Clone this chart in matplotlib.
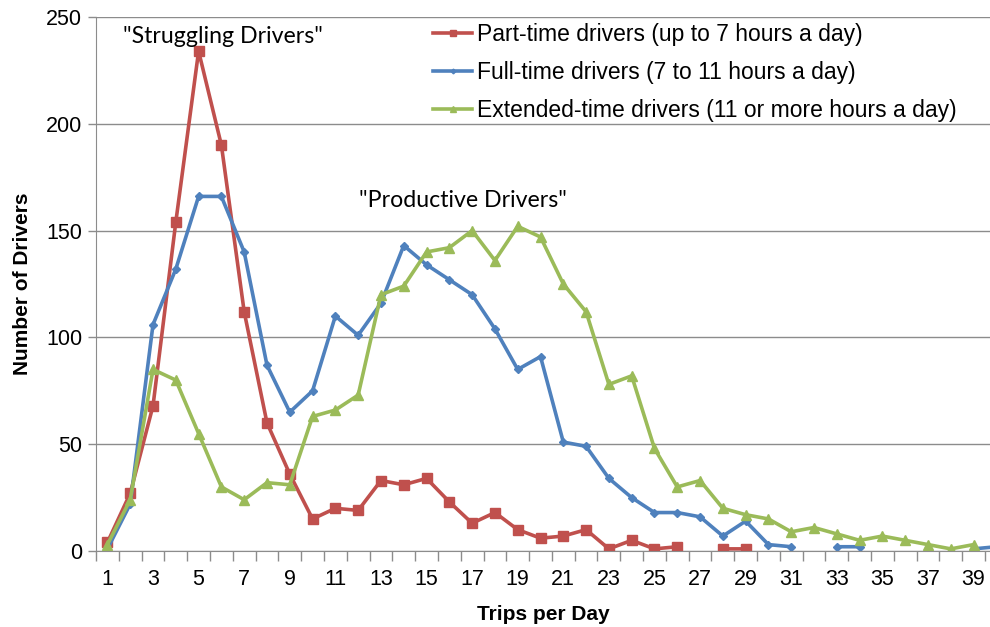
import numpy as np
import matplotlib
matplotlib.use("Agg")
import matplotlib.pyplot as plt
from matplotlib.ticker import FixedLocator, NullFormatter

nan = np.nan
trips = list(range(1, 41))

part_time = [4, 27, 68, 154, 234, 190, 112, 60, 36, 15,
             20, 19, 33, 31, 34, 23, 13, 18, 10, 6,
             7, 10, 1, 5, 1, 2, nan, 1, 1, nan,
             nan, nan, nan, nan, nan, nan, nan, nan, nan, nan]
full_time = [1, 22, 106, 132, 166, 166, 140, 87, 65, 75,
             110, 101, 116, 143, 134, 127, 120, 104, 85, 91,
             51, 49, 34, 25, 18, 18, 16, 7, 14, 3,
             2, nan, 2, 2, nan, nan, nan, nan, 1, 2]
extended = [3, 24, 85, 80, 55, 30, 24, 32, 31, 63,
            66, 73, 120, 124, 140, 142, 150, 136, 152, 147,
            125, 112, 78, 82, 48, 30, 33, 20, 17, 15,
            9, 11, 8, 5, 7, 5, 3, 1, 3, nan]

labels = ["Part-time drivers (up to 7 hours a day)",
          "Full-time drivers (7 to 11 hours a day)",
          "Extended-time drivers (11 or more hours a day)"]

red, blue, green = "#C0504D", "#4F81BD", "#9BBB59"

fig = plt.figure(figsize=(9.9, 6.27), dpi=100)
ax = fig.add_axes([0.097, 0.1212, 0.903, 0.8517])

ax.plot(trips, part_time, color=red, lw=2.6, marker="s", ms=6.5, label=labels[0])
ax.plot(trips, full_time, color=blue, lw=2.6, marker="D", ms=4, label=labels[1])
ax.plot(trips, extended, color=green, lw=2.6, marker="^", ms=6.5, label=labels[2])

ax.set_xlim(0.5, 39.72)
ax.set_ylim(0, 250)
ax.set_yticks([0, 50, 100, 150, 200, 250])
ax.yaxis.grid(True, color="#8c8c8c", lw=1)
ax.set_axisbelow(True)

ax.set_xticks(range(1, 40, 2))
ax.xaxis.set_minor_locator(FixedLocator(np.arange(0.5, 40.5, 1)))
ax.xaxis.set_minor_formatter(NullFormatter())
ax.tick_params(axis="x", which="major", length=0, pad=13, labelsize=15.5)
ax.tick_params(axis="x", which="minor", length=7, color="#8c8c8c", width=1)
ax.tick_params(axis="y", length=6, color="#8c8c8c", width=1, pad=4, labelsize=15.5)
for lab in ax.get_xticklabels() + ax.get_yticklabels():
    lab.set_family("Liberation Sans")

for side in ["top", "right"]:
    ax.spines[side].set_visible(False)
ax.spines["left"].set_color("#8c8c8c")
ax.spines["bottom"].set_color("#8c8c8c")

ax.set_xlabel("Trips per Day", fontsize=15, fontweight="bold", family="Liberation Sans", labelpad=11)
ax.set_ylabel("Number of Drivers", fontsize=15, fontweight="bold", family="Liberation Sans", labelpad=10)

ax.text(6.05, 241, '"Struggling Drivers"', fontsize=16.7, family="Lato", ha="center", va="center")
ax.text(16.6, 164, '"Productive Drivers"', fontsize=16.7, family="Lato", ha="center", va="center")

leg = ax.legend(loc="upper left", bbox_to_anchor=(0.354, 1.028), frameon=False,
                prop={"family": "Liberation Sans", "size": 16.5},
                handlelength=1.7, handletextpad=0.2, labelspacing=0.67, markerscale=0.6)

fig.savefig("out.png", dpi=100)
